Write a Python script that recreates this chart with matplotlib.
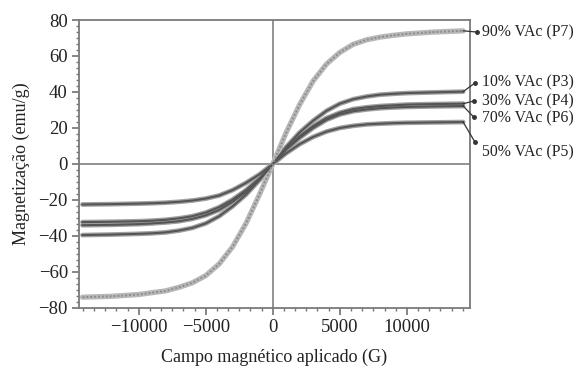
import matplotlib
matplotlib.use('Agg')
import matplotlib.pyplot as plt
from matplotlib.ticker import AutoMinorLocator

plt.rcParams['font.family'] = ['Liberation Serif', 'DejaVu Serif']

# campo aplicado (G)
campo = [-14200, -12000, -10000, -9000, -8000, -7000, -6000, -5000, -4000,
         -3000, -2000, -1000, 0, 1000, 2000, 3000, 4000, 5000, 6000, 7000,
         8000, 9000, 10000, 12000, 14200]

# magnetizacao (emu/g)
p7 = [-74, -73.5, -72.5, -71.5, -70.5, -68.5, -66, -62, -55.5, -46, -33, -17,
      0, 17.5, 33, 46, 55.5, 62, 66.5, 69, 70.5, 71.5, 72.3, 73.3, 74]
p3 = [-39.5, -39.2, -38.8, -38.5, -38, -37, -35.5, -33, -29, -23.5, -17, -9,
      0, 9.5, 17.5, 24, 29.5, 33.5, 36, 37.5, 38.5, 39, 39.4, 39.8, 40.2]
p4 = [-34, -33.8, -33.4, -33, -32.5, -31.8, -30.5, -28.5, -25.5, -21, -15.5, -8.5,
      0, 8.5, 15.5, 21, 25.5, 28.5, 30.5, 31.5, 32.2, 32.6, 33, 33.3, 33.5]
p6 = [-32.3, -32.1, -31.8, -31.5, -31, -30.2, -29, -27, -24, -19.8, -14.5, -8,
      0, 8, 14.5, 20, 24.5, 27.5, 29.3, 30.3, 31, 31.4, 31.7, 32, 32.2]
p5 = [-22.5, -22.3, -22, -21.8, -21.5, -21, -20.3, -19.2, -17.5, -14.5, -10.5, -5.8,
      0, 6, 11, 15, 18, 20, 21.2, 22, 22.4, 22.7, 22.9, 23.1, 23.3]

rotulos = ['90% VAc (P7)', '10% VAc (P3)', '30% VAc (P4)', '70% VAc (P6)', '50% VAc (P5)']
series = [p7, p3, p4, p6, p5]
# posicao dos rotulos (y) e ponto final das linhas guia
rot_y = [73.3, 45.5, 35, 25.5, 6.7]
guia_x = [15230, 15080, 15000, 15000, 15080]
guia_y = [73.3, 45, 35, 26, 12.2]

fig = plt.figure(figsize=(5.74, 3.67), dpi=100)
ax = fig.add_axes([0.1376, 0.1608, 0.6812, 0.7847])

# curvas escuras primeiro, P7 mais clara
for ys in [p3, p4, p6, p5]:
    ax.plot(campo, ys, color='#a0a0a0', lw=3.4, solid_capstyle='round', zorder=3)
    ax.plot(campo, ys, color='#555555', lw=1.5, zorder=4)
ax.plot(campo, p7, color='#b8b8b8', lw=3.8, solid_capstyle='round', zorder=3)
ax.plot(campo, p7, color='#8c8c8c', lw=1.4, ls=(0, (1, 1)), zorder=4)

ax.axhline(0, color='#808080', lw=1.2, zorder=2)
ax.axvline(0, color='#808080', lw=1.2, zorder=2)

for ys, txt, ty, gx, gy in zip(series, rotulos, rot_y, guia_x, guia_y):
    ax.plot([campo[-1], gx], [ys[-1], gy], color='#333333', lw=0.9, clip_on=False, zorder=5)
    ax.plot([gx], [gy], marker='o', ms=2.5, color='#333333', clip_on=False, zorder=5)
    ax.text(15600, ty, txt, fontsize=11.3, va='center', ha='left', color='#222222')

ax.set_xlim(-14460, 14710)
ax.set_ylim(-80, 80)
ax.set_xticks([-10000, -5000, 0, 5000, 10000])
ax.set_yticks([-80, -60, -40, -20, 0, 20, 40, 60, 80])
ax.xaxis.set_minor_locator(AutoMinorLocator(6))
ax.yaxis.set_minor_locator(AutoMinorLocator(6))
ax.tick_params(which='major', length=5, width=1.1, color='#666666', labelsize=13.5,
               labelcolor='#222222', pad=3)
ax.tick_params(which='minor', length=2.5, width=1.0, color='#777777')
ax.tick_params(top=False, right=False, which='both')
for s in ax.spines.values():
    s.set_color('#7a7a7a')
    s.set_linewidth(1.3)

ax.set_xlabel('Campo magnético aplicado (G)', fontsize=13, color='#222222', labelpad=9)
ax.set_ylabel('Magnetização (emu/g)', fontsize=13, color='#222222', labelpad=6)

fig.savefig('out.png', dpi=100)
